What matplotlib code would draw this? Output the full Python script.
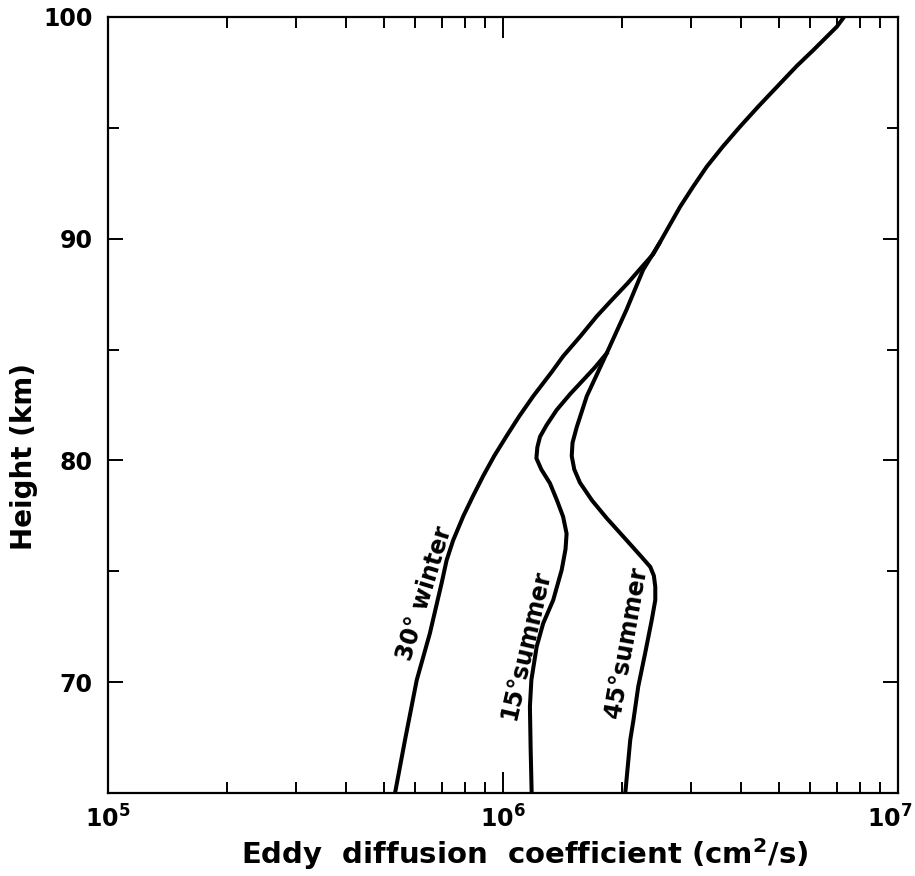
import numpy as np
import matplotlib
matplotlib.use("Agg")
import matplotlib.pyplot as plt
from matplotlib.ticker import FixedLocator, LogLocator, NullFormatter
from matplotlib.transforms import ScaledTranslation

# heights (km) and eddy diffusion coefficients (cm^2/s)
winter_h = [65.0, 67.4, 70.1, 72.2, 74.5, 75.5, 76.4, 77.5, 78.4, 79.3,
            80.2, 81.1, 82.0, 82.9, 84.0, 84.7, 85.6, 86.5, 87.3, 88.0,
            88.7, 89.3, 89.8, 90.6, 91.45, 92.35, 93.25, 94.15, 95.05,
            96.0, 97.0, 97.8, 98.5, 99.56, 100.0]
winter_k = [5.33e5, 5.65e5, 6.05e5, 6.53e5, 7.0e5, 7.2e5, 7.48e5, 7.94e5,
            8.4e5, 8.91e5, 9.5e5, 1.021e6, 1.1e6, 1.193e6, 1.33e6, 1.42e6,
            1.57e6, 1.727e6, 1.9e6, 2.07e6, 2.24e6, 2.40e6, 2.49e6, 2.64e6,
            2.81e6, 3.03e6, 3.28e6, 3.6e6, 3.98e6, 4.45e6, 5.03e6, 5.55e6,
            6.1e6, 7.0e6, 7.3e6]

s15_h = [65.0, 67.0, 68.9, 70.1, 71.6, 72.65, 73.7, 75.06, 76.0, 76.7,
         77.46, 78.2, 78.97, 79.6, 80.1, 80.6, 81.07, 81.6, 82.28, 83.0,
         83.63, 84.2, 84.83]
s15_k = [1.182e6, 1.175e6, 1.17e6, 1.18e6, 1.217e6, 1.264e6, 1.34e6,
         1.408e6, 1.44e6, 1.449e6, 1.42e6, 1.37e6, 1.315e6, 1.25e6,
         1.215e6, 1.222e6, 1.241e6, 1.29e6, 1.368e6, 1.48e6, 1.597e6,
         1.71e6, 1.83e6]

s45_h = [65.0, 67.4, 68.3, 69.8, 71.3, 72.8, 73.7, 74.3, 74.8, 75.2,
         75.66, 76.4, 77.4, 78.2, 79.0, 79.6, 80.2, 80.8, 81.5, 82.9,
         84.83, 86.8, 88.6, 89.8]
s45_k = [2.04e6, 2.10e6, 2.14e6, 2.20e6, 2.29e6, 2.38e6, 2.43e6, 2.43e6,
         2.41e6, 2.36e6, 2.24e6, 2.056e6, 1.83e6, 1.68e6, 1.566e6, 1.515e6,
         1.493e6, 1.50e6, 1.537e6, 1.63e6, 1.83e6, 2.055e6, 2.264e6, 2.49e6]

# curve labels: text, x, y, rotation
labels = [("30° winter", 6.35e5, 73.98, 73),
          ("15°summer", 1.143e6, 71.68, 77),
          ("45°summer", 2.05e6, 71.81, 80)]

y_ticks = [70, 80, 90, 100]
x_ticks = [1e5, 1e6, 1e7]
x_ticklabels = [r"$\mathbf{10^5}$", r"$\mathbf{10^6}$", r"$\mathbf{10^7}$"]

plt.rcParams["font.family"] = "DejaVu Sans"
plt.rcParams["font.weight"] = "bold"

fig = plt.figure(figsize=(9.15, 8.76), dpi=100)
ax = fig.add_axes([0.118, 0.0947, 0.8634, 0.8859])

for h, k in ((winter_h, winter_k), (s15_h, s15_k), (s45_h, s45_k)):
    ax.plot(k, h, color="black", lw=2.9, solid_joinstyle="round")

for txt, x, y, rot in labels:
    ax.text(x, y, txt, rotation=rot, ha="center", va="center",
            fontsize=17, fontweight="bold", rotation_mode="anchor")

ax.set_xscale("log")
ax.set_xlim(1e5, 1e7)
ax.set_ylim(65, 100)
ax.set_yticks(y_ticks)
ax.yaxis.set_minor_locator(FixedLocator([75, 85, 95]))
ax.xaxis.set_minor_locator(LogLocator(base=10, subs=np.arange(2, 10)))
ax.xaxis.set_minor_formatter(NullFormatter())
ax.set_xticks(x_ticks)
ax.set_xticklabels(x_ticklabels)

ax.tick_params(which="both", direction="in", top=True, right=True,
               labelsize=17, width=1.4)
ax.tick_params(axis="y", which="major", length=11, pad=11)
ax.tick_params(axis="x", which="major", length=15, pad=9)
ax.tick_params(which="minor", length=8)
for s in ax.spines.values():
    s.set_linewidth(1.6)

# nudge the 10^7 label left so it stays inside the figure
last = ax.get_xticklabels()[-1]
last.set_transform(last.get_transform()
                   + ScaledTranslation(-6 / 72, 0, fig.dpi_scale_trans))

ax.set_xlabel(r"Eddy  diffusion  coefficient (cm$^\mathbf{2}$/s)",
              fontsize=21, fontweight="bold", va="center")
ax.set_ylabel("Height (km)", fontsize=20, fontweight="bold", va="center")
ax.xaxis.set_label_coords(0.528, -0.079)
ax.yaxis.set_label_coords(-0.106, 0.434)

fig.savefig("out.png", dpi=100)
